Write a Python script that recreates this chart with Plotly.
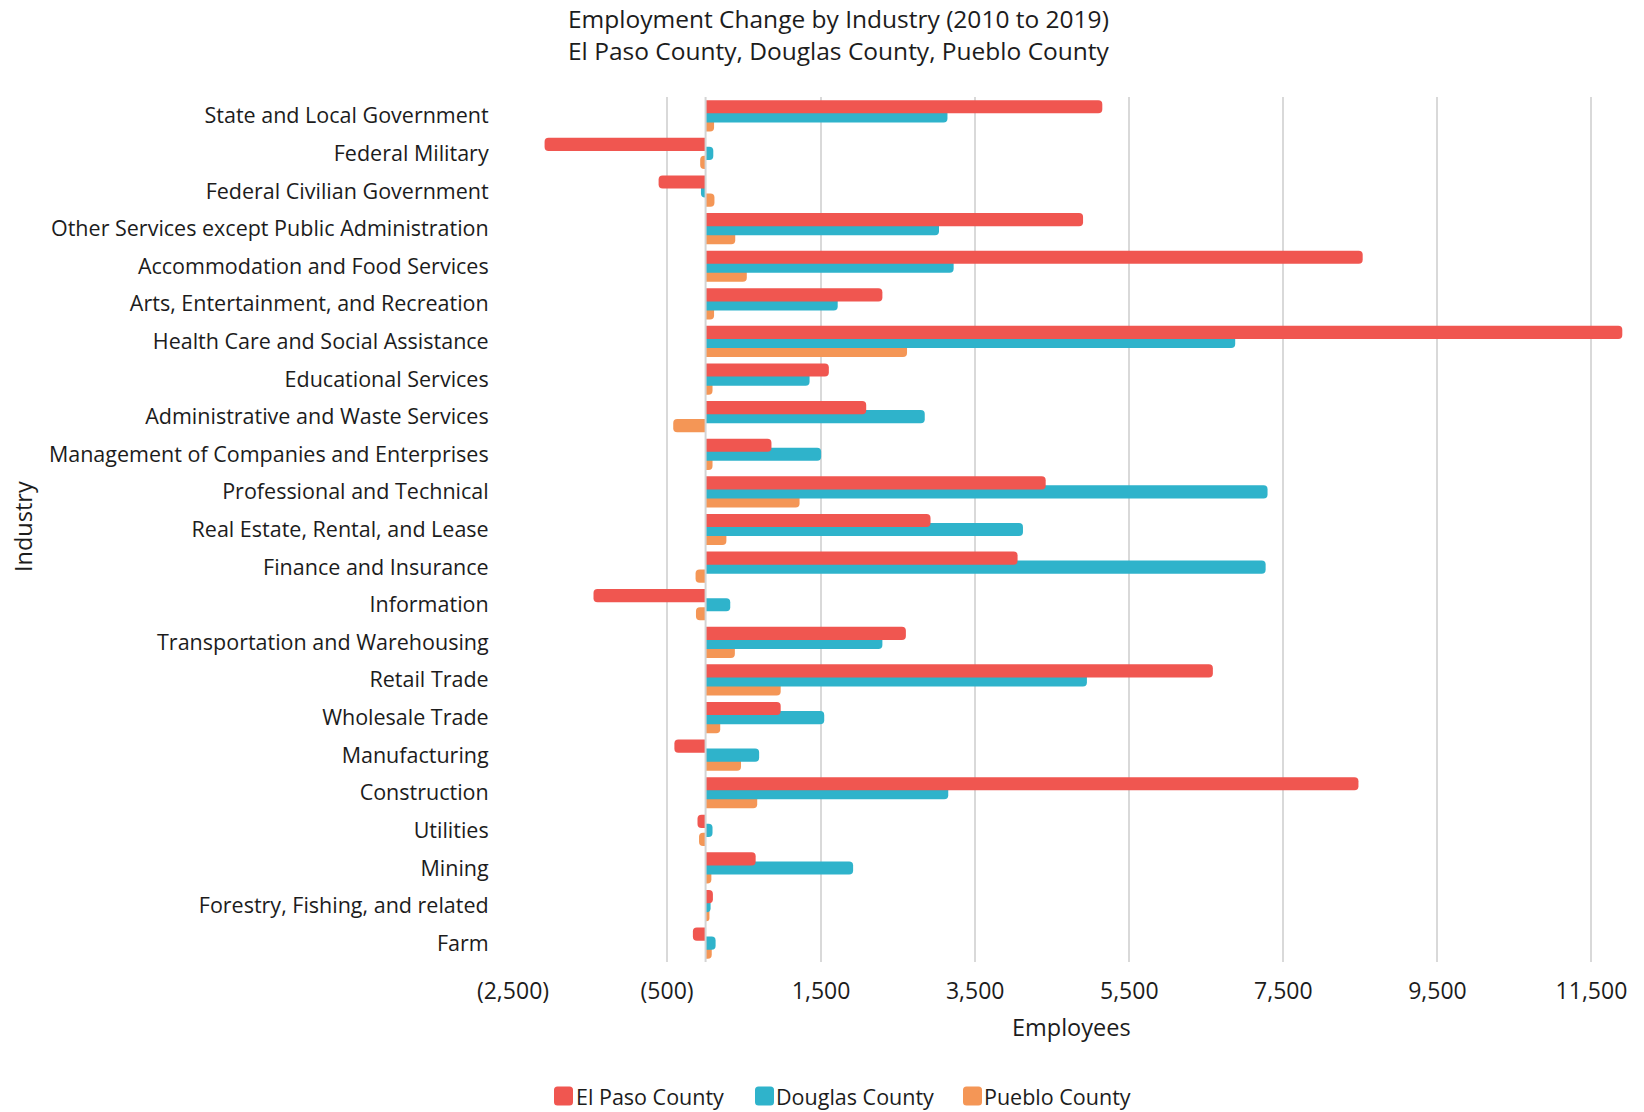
import plotly.graph_objects as go

# Industries, listed top to bottom
industries = [
    "State and Local Government",
    "Federal Military",
    "Federal Civilian Government",
    "Other Services except Public Administration",
    "Accommodation and Food Services",
    "Arts, Entertainment, and Recreation",
    "Health Care and Social Assistance",
    "Educational Services",
    "Administrative and Waste Services",
    "Management of Companies and Enterprises",
    "Professional and Technical",
    "Real Estate, Rental, and Lease",
    "Finance and Insurance",
    "Information",
    "Transportation and Warehousing",
    "Retail Trade",
    "Wholesale Trade",
    "Manufacturing",
    "Construction",
    "Utilities",
    "Mining",
    "Forestry, Fishing, and related",
    "Farm",
]

# Employment change 2010 -> 2019 (employees)
el_paso = [5150, -2090, -610, 4900, 8530, 2295, 11900, 1600, 2085, 855, 4415,
           2920, 4050, -1455, 2600, 6585, 975, -405, 8475, -105, 650, 95, -165]
douglas = [3140, 100, -60, 3030, 3220, 1715, 6875, 1350, 2845, 1500, 7295,
           4120, 7270, 320, 2295, 4950, 1540, 695, 3150, 90, 1915, 65, 130]
pueblo = [110, -70, 115, 385, 535, 110, 2615, 90, -420, 90, 1220,
          270, -130, -125, 380, 975, 190, 460, 670, -85, 75, 50, 80]

x_ticks = [-2500, -500, 1500, 3500, 5500, 7500, 9500, 11500]
x_tick_text = ["(2,500)", "(500)", "1,500", "3,500", "5,500", "7,500", "9,500", "11,500"]

title_lines = [
    "Employment Change by Industry (2010 to 2019)",
    "El Paso County, Douglas County, Pueblo County",
]

RED = "#F05650"
CYAN = "#2FB3CB"
ORANGE = "#F49656"
FONT = "Open Sans, Liberation Sans, Arial, sans-serif"
TEXT = "#1c1c1c"

BAR_W = 0.35      # bar thickness in category units
STEP = 0.24       # centre-to-centre spacing of bars inside a group

fig = go.Figure()
# drawn bottom series first so El Paso sits on top where bars touch
series = [
    ("Pueblo County", pueblo, ORANGE, STEP),
    ("Douglas County", douglas, CYAN, 0.0),
    ("El Paso County", el_paso, RED, -STEP),
]
for name, vals, color, centre in series:
    fig.add_trace(go.Bar(
        y=industries,
        x=vals,
        name=name,
        orientation="h",
        width=BAR_W,
        offset=centre - BAR_W / 2,
        showlegend=False,
        marker=dict(color=color, cornerradius=4, line=dict(width=0)),
    ))

L, R, T, B = 513, 14, 97, 150
W, H = 1644, 1112
plot_w = W - L - R
plot_h = H - T - B


def py(pix):
    return (H - B - pix) / plot_h


def px(pix):
    return (pix - L) / plot_w


# legend: rounded colour swatch followed directly by the series name
def swatch(half, r):
    a, b = -half, half
    return (f"M {a + r},{a} L {b - r},{a} Q {b},{a} {b},{a + r} "
            f"L {b},{b - r} Q {b},{b} {b - r},{b} L {a + r},{b} "
            f"Q {a},{b} {a},{b - r} L {a},{a + r} Q {a},{a} {a + r},{a} Z")


legend_items = [
    ("El Paso County", RED, 563.5, 574),
    ("Douglas County", CYAN, 764.5, 774),
    ("Pueblo County", ORANGE, 972.5, 982),
]
legend_y = 1096

shapes = [
    # vertical axis line at zero, drawn over the bars
    dict(type="line", xref="x", yref="paper", x0=0, x1=0, y0=0, y1=1,
         line=dict(color="#d4d4d4", width=2), layer="above"),
]
annotations = [
    dict(text="<br>".join(title_lines),
         xref="paper", yref="paper", x=px(839), y=py(34),
         xanchor="center", yanchor="middle", showarrow=False,
         align="center", font=dict(size=24.5, color=TEXT)),
    dict(text="Employees",
         xref="paper", yref="paper", x=px(1071), y=py(1027),
         xanchor="center", yanchor="middle", showarrow=False,
         font=dict(size=23.5, color=TEXT)),
    dict(text="Industry",
         xref="paper", yref="paper", x=px(23), y=py(527),
         xanchor="center", yanchor="middle", showarrow=False,
         textangle=-90, font=dict(size=23.5, color=TEXT)),
]
for name, color, cx, tx in legend_items:
    shapes.append(dict(
        type="path", xref="paper", yref="paper",
        xsizemode="pixel", ysizemode="pixel",
        xanchor=px(cx), yanchor=py(legend_y),
        path=swatch(9.5, 3.5),
        fillcolor=color, line=dict(width=0), layer="above",
    ))
    annotations.append(dict(
        text=name, xref="paper", yref="paper", x=px(tx), y=py(legend_y),
        xanchor="left", yanchor="middle", showarrow=False,
        font=dict(size=21.5, color=TEXT),
    ))

fig.update_layout(
    width=W, height=H,
    margin=dict(l=L, r=R, t=T, b=B, autoexpand=False),
    paper_bgcolor="white",
    plot_bgcolor="white",
    barmode="overlay",
    font=dict(family=FONT, size=20, color=TEXT),
    showlegend=False,
    xaxis=dict(
        range=[-2500, 12000],
        tickmode="array",
        tickvals=x_ticks,
        ticktext=x_tick_text,
        showgrid=True,
        gridcolor="#d9d9d9",
        gridwidth=2,
        zeroline=False,
        showline=False,
        ticks="outside",
        ticklen=8,
        tickcolor="rgba(0,0,0,0)",
        tickfont=dict(size=23, color=TEXT),
        automargin=False,
    ),
    yaxis=dict(
        autorange="reversed",
        showgrid=False,
        zeroline=False,
        showline=False,
        ticks="outside",
        ticklen=19,
        tickcolor="rgba(0,0,0,0)",
        tickfont=dict(size=21.5, color=TEXT),
        automargin=False,
    ),
    shapes=shapes,
    annotations=annotations,
)

fig.write_html("out.html")
